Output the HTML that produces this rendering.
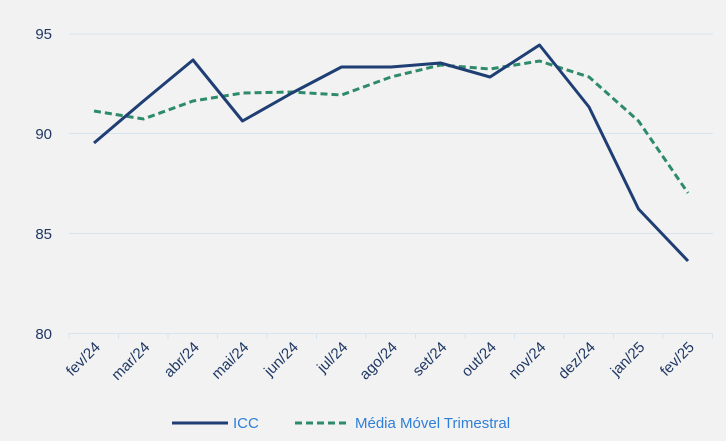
<!DOCTYPE html>
<html><head><meta charset="utf-8"><style>
html,body{margin:0;padding:0;background:#f2f2f2}
svg{display:block}
text{font-family:"Liberation Sans",sans-serif}
</style></head><body>
<svg width="726" height="441" viewBox="0 0 726 441">
<rect width="726" height="441" fill="#f2f2f2"/>
<g stroke="#d6e4f0" stroke-width="1">
<line x1="69" y1="34" x2="713" y2="34"/>
<line x1="69" y1="133.5" x2="713" y2="133.5"/>
<line x1="69" y1="233.5" x2="713" y2="233.5"/>
<line x1="69" y1="333.5" x2="713" y2="333.5"/>
</g>
<g stroke="#d6e4f0">
<line x1="69" y1="333" x2="69" y2="339"/><line x1="118.5" y1="333" x2="118.5" y2="339"/><line x1="168" y1="333" x2="168" y2="339"/><line x1="217.5" y1="333" x2="217.5" y2="339"/><line x1="267" y1="333" x2="267" y2="339"/><line x1="316.5" y1="333" x2="316.5" y2="339"/><line x1="366" y1="333" x2="366" y2="339"/><line x1="415.5" y1="333" x2="415.5" y2="339"/><line x1="465" y1="333" x2="465" y2="339"/><line x1="514.5" y1="333" x2="514.5" y2="339"/><line x1="564" y1="333" x2="564" y2="339"/><line x1="613.5" y1="333" x2="613.5" y2="339"/><line x1="663" y1="333" x2="663" y2="339"/><line x1="712.5" y1="333" x2="712.5" y2="339"/>
</g>
<g fill="#1f3864" font-size="15" text-anchor="end">
<text x="52" y="39">95</text><text x="52" y="139">90</text><text x="52" y="239">85</text><text x="52" y="339">80</text>
</g>
<g fill="#1f3864" font-size="15" text-anchor="end" textLength="0">
<text transform="translate(101,348) rotate(-45)">fev/24</text>
<text transform="translate(150.5,348) rotate(-45)">mar/24</text>
<text transform="translate(200,348) rotate(-45)">abr/24</text>
<text transform="translate(249.5,348) rotate(-45)">mai/24</text>
<text transform="translate(299,348) rotate(-45)">jun/24</text>
<text transform="translate(348.5,348) rotate(-45)">jul/24</text>
<text transform="translate(398,348) rotate(-45)">ago/24</text>
<text transform="translate(447.5,348) rotate(-45)">set/24</text>
<text transform="translate(497,348) rotate(-45)">out/24</text>
<text transform="translate(546.5,348) rotate(-45)">nov/24</text>
<text transform="translate(596,348) rotate(-45)">dez/24</text>
<text transform="translate(645.5,348) rotate(-45)">jan/25</text>
<text transform="translate(695,348) rotate(-45)">fev/25</text>
</g>
<polyline fill="none" stroke="#2e8b6a" stroke-width="3" stroke-dasharray="7,4" points="94,111 143.5,119 193,101 242.5,93 292,92 341.5,95 391,77 440.5,65 490,69 539.5,61 589,77 638.5,121 688,193"/>
<polyline fill="none" stroke="#1f3e74" stroke-width="3" stroke-linejoin="round" points="94,143 143.5,101 193,60 242.5,121 292,93 341.5,67 391,67 440.5,63 490,77 539.5,45 589,107 638.5,209 688,261"/>
<line x1="172" y1="423" x2="228" y2="423" stroke="#1f3e74" stroke-width="3"/>
<text x="233" y="428" font-size="15" fill="#2e7fd8">ICC</text>
<line x1="295" y1="423" x2="349" y2="423" stroke="#2e8b6a" stroke-width="3" stroke-dasharray="7,4"/>
<text x="355" y="428" font-size="15" fill="#2e7fd8">Média Móvel Trimestral</text>
</svg>
</body></html>
